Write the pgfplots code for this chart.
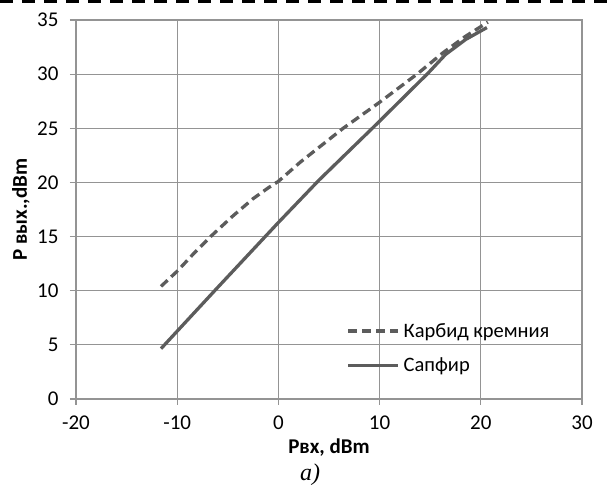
\documentclass[border=0pt]{standalone}
\usepackage{fontspec}
\setmainfont{Carlito}
\newfontfamily\capfont{Liberation Serif}
\usepackage{pgfplots}
\pgfplotsset{compat=1.18}
\definecolor{gridc}{RGB}{148,148,148}
\definecolor{linec}{RGB}{92,92,92}
\begin{document}
\begin{tikzpicture}[x=1pt,y=1pt]
\path[use as bounding box] (-76,-87) rectangle (532,399);
\draw[black, line width=3pt, dash pattern=on 13pt off 9pt] (-76,397.5) -- (532,397.5);
\begin{axis}[at={(0,0)}, anchor=south west, scale only axis,
  width=506pt, height=379pt,
  xmin=-20, xmax=30, ymin=0, ymax=35,
  xtick={-20,-10,0,10,20,30}, ytick={0,5,10,15,20,25,30,35},
  grid=major, major grid style={gridc, line width=1.2pt},
  axis line style={gridc, line width=1.2pt},
  tick style={gridc, line width=1.2pt},
  tick align=outside, tick pos=left, major tick length=6pt,
  /pgf/number format/assume math mode=true,
  ticklabel style={font=\fontsize{21}{22}\selectfont, text=black},
  xticklabel style={yshift=-7pt},
  yticklabel style={xshift=-8pt},
  xlabel={\textbf{Рвх, dBm}}, ylabel={\textbf{Р вых.,dBm}},
  label style={font=\fontsize{21}{22}\selectfont},
  xlabel style={at={(axis description cs:0.5,-0.1293)}, anchor=center},
  ylabel style={at={(axis description cs:-0.1087,0.5)}, anchor=center},
  legend cell align=left,
  legend image code/.code={\draw[#1] (0pt,0pt) -- (50pt,0pt);},
  legend style={at={(axis cs:6.7,7.2)}, anchor=north west, draw=none, fill=none,
    font=\fontsize{20.5}{21}\selectfont, row sep=15pt, column sep=2pt, inner sep=0pt,
    nodes={inner sep=2pt}},
]
\addplot[linec, line width=3.3pt, dash pattern=on 9pt off 5pt] coordinates {
(-11.6,10.4) (-10,11.8) (-8.3,13.5) (-6.7,15) (-4.5,16.9) (-2.5,18.5) (-1,19.5) (0,20.1)
(2.2,21.9) (6.4,25) (10,27.4) (13.7,30) (16.3,32) (18.5,33.5) (20.7,34.8)};
\addlegendentry{Карбид кремния}
\addplot[linec, line width=3.3pt] coordinates {
(-11.6,4.65) (-6,10.3) (0,16.3) (4,20.2) (9.5,25.2) (14.8,30.1) (16.5,31.8) (18.5,33.2) (20.6,34.3)};
\addlegendentry{Сапфир}
\end{axis}
\node[font=\capfont\itshape\fontsize{24}{24}\selectfont] at (234,-76) {a)};
\end{tikzpicture}
\end{document}
